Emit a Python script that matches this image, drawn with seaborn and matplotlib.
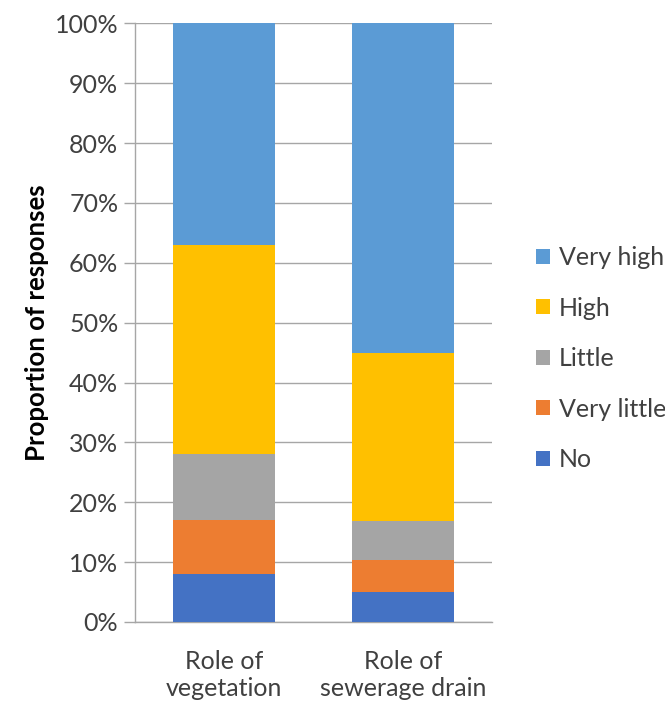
import numpy as np
import pandas as pd
import matplotlib
matplotlib.use("Agg")
import matplotlib.pyplot as plt
import seaborn as sns
from matplotlib.patches import Patch
from matplotlib.ticker import PercentFormatter

# ─── Data ──────────────────────────────────────────────────────────────────────
categories = ["Role of\nvegetation", "Role of\nsewerage drain"]
levels     = ["No", "Very little", "Little", "High", "Very high"]
no_vals          = [8.0, 5.0]
very_little_vals = [9.1, 5.4]
little_vals      = [11.0, 6.4]
high_vals        = [34.9, 28.1]
very_high_vals   = [37.0, 55.1]

colors = ["#4472C4", "#ED7D31", "#A5A5A5", "#FFC000", "#5B9BD5"]

df = pd.DataFrame({
    "category":    categories,
    "No":          no_vals,
    "Very little": very_little_vals,
    "Little":      little_vals,
    "High":        high_vals,
    "Very high":   very_high_vals,
})
cum = df[levels].cumsum(axis=1)
cum["category"] = df["category"]

# ─── Plot ──────────────────────────────────────────────────────────────────────
sns.set_theme(style="white")
plt.rcParams["font.family"] = ["Lato", "DejaVu Sans"]

fig = plt.figure(figsize=(6.65, 7.06), dpi=100)
ax = fig.add_axes([0.203, 0.119, 0.537, 0.848])

# draw cumulative totals from the top level down, so each overlays the next
for lvl, col in reversed(list(zip(levels, colors))):
    sns.barplot(data=cum, x="category", y=lvl, color=col, width=0.57,
                saturation=1, linewidth=0, ax=ax, zorder=3)

ax.set_ylim(0, 100)
ax.set_xlim(-0.5, 1.5)
ax.set_yticks(np.arange(0, 101, 10))
ax.yaxis.set_major_formatter(PercentFormatter(decimals=0))
ax.yaxis.grid(True, color="#A6A6A6", lw=1, zorder=0)
ax.set_axisbelow(True)

for s in ["top", "right"]:
    ax.spines[s].set_visible(False)
for s in ["left", "bottom"]:
    ax.spines[s].set_color("#A6A6A6")
    ax.spines[s].set_linewidth(1)

ax.tick_params(axis="y", which="major", left=True, length=8, width=1,
               color="#A6A6A6", labelsize=18, labelcolor="#404040", pad=4)
ax.tick_params(axis="x", bottom=False, labelsize=18, labelcolor="#404040", pad=14)

ax.set_xlabel("")
ax.set_ylabel("Proportion of responses", fontsize=18.5, fontweight="bold",
              color="#000000", labelpad=4)

handles = [Patch(facecolor=c, edgecolor="none") for c in colors][::-1]
ax.legend(handles, levels[::-1], loc="center left", bbox_to_anchor=(1.06, 0.44),
          frameon=False, fontsize=18, labelcolor="#404040",
          handlelength=0.55, handleheight=0.55, handletextpad=0.35,
          labelspacing=1.1)

fig.savefig("out.png", dpi=100)
